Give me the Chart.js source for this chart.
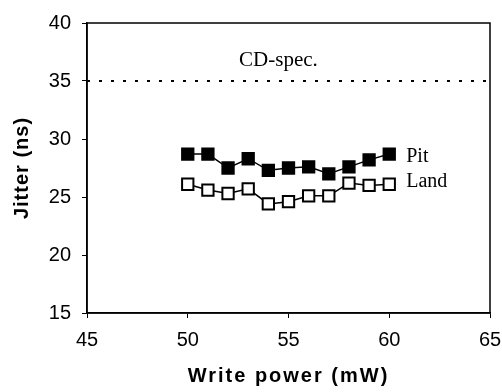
<!DOCTYPE html>
<html>
<head>
<meta charset="utf-8">
<script src="https://cdn.jsdelivr.net/npm/chart.js@4.4.0/dist/chart.umd.min.js"></script>
<style>
  html, body { margin: 0; padding: 0; background: #fff; }
  #wrap { width: 502px; height: 392px; }
</style>
</head>
<body>
<div id="wrap"><canvas id="c" width="502" height="392"></canvas></div>
<script>
// ---- data ----
const writePower = [50, 51, 52, 53, 54, 55, 56, 57, 58, 59, 60];
const pitJitter  = [28.7, 28.7, 27.5, 28.3, 27.3, 27.5, 27.6, 27.0, 27.6, 28.2, 28.7];
const landJitter = [26.1, 25.6, 25.3, 25.7, 24.4, 24.6, 25.1, 25.1, 26.2, 26.0, 26.1];
const specX = [45, 65];
const specY = [35, 35];
const xTicks = [45, 50, 55, 60, 65];
const yTicks = [15, 20, 25, 30, 35, 40];
const seriesNames = ['Pit', 'Land'];
const specLabel = 'CD-spec.';
const xTitle = 'Write power (mW)';
const yTitle = 'Jitter (ns)';

const toXY = (xs, ys) => xs.map((x, i) => ({ x: x, y: ys[i] }));

// give an axis title some letter spacing, like the original print
function spaceTitle(s, spacing) {
  if (s._spacedTitle) return;
  s._spacedTitle = true;
  const orig = s.drawTitle;
  s.drawTitle = function () {
    const ctx = this.ctx;
    ctx.save();
    ctx.letterSpacing = spacing;
    orig.apply(this, arguments);
    ctx.restore();
  };
}

const annotate = {
  id: 'annotate',
  afterDatasetsDraw(chart) {
    const ctx = chart.ctx;
    const xs = chart.scales.x, ys = chart.scales.y;
    const a = chart.chartArea;
    ctx.save();
    ctx.strokeStyle = '#000';
    ctx.lineWidth = 1.5;
    ctx.strokeRect(a.left, a.top, a.right - a.left, a.bottom - a.top);
    ctx.fillStyle = '#000';
    ctx.font = '21px "Liberation Serif", "Times New Roman", serif';
    ctx.textAlign = 'center';
    ctx.textBaseline = 'middle';
    ctx.fillText(specLabel, xs.getPixelForValue(54.5), ys.getPixelForValue(36.8));
    ctx.font = '20px "Liberation Serif", "Times New Roman", serif';
    ctx.textAlign = 'left';
    const lx = xs.getPixelForValue(60) + 17;
    ctx.fillText(seriesNames[0], lx, ys.getPixelForValue(pitJitter[pitJitter.length - 1]) + 3);
    ctx.fillText(seriesNames[1], lx, ys.getPixelForValue(landJitter[landJitter.length - 1]) - 2);
    ctx.restore();
  }
};

new Chart(document.getElementById('c'), {
  type: 'line',
  data: {
    datasets: [
      {
        label: seriesNames[0],
        data: toXY(writePower, pitJitter),
        borderColor: '#000',
        borderWidth: 1.5,
        pointStyle: 'rect',
        pointRadius: 8,
        pointBorderWidth: 2,
        pointBackgroundColor: '#000',
        pointBorderColor: '#000',
        tension: 0
      },
      {
        label: seriesNames[1],
        data: toXY(writePower, landJitter),
        borderColor: '#000',
        borderWidth: 1.5,
        pointStyle: 'rect',
        pointRadius: 8,
        pointBorderWidth: 2,
        pointBackgroundColor: '#fff',
        pointBorderColor: '#000',
        tension: 0
      },
      {
        label: specLabel,
        data: toXY(specX, specY),
        borderColor: '#000',
        borderWidth: 2,
        borderDash: [3, 9],
        pointRadius: 0,
        tension: 0
      }
    ]
  },
  options: {
    responsive: false,
    animation: false,
    devicePixelRatio: 1,
    layout: { padding: { top: 22, right: 0, left: 0, bottom: 0 } },
    plugins: { legend: { display: false }, tooltip: { enabled: false } },
    scales: {
      x: {
        type: 'linear',
        min: 45, max: 65,
        afterBuildTicks: s => { s.ticks = xTicks.map(v => ({ value: v })); },
        afterFit: s => { s.height = 79; s.paddingRight = 12; s.paddingLeft = 0; spaceTitle(s, '2px'); },
        grid: { drawOnChartArea: false, drawTicks: true, tickLength: 5, color: '#000', lineWidth: 1 },
        border: { display: true, color: '#000', width: 1.5 },
        ticks: { color: '#000', padding: 10, maxRotation: 0, font: { family: '"Liberation Sans", Arial, sans-serif', size: 20 } },
        title: { display: true, text: xTitle, color: '#000', padding: { top: 0, bottom: 4 },
                 font: { family: '"Liberation Sans", Arial, sans-serif', size: 20, weight: 'bold' } }
      },
      y: {
        type: 'linear',
        min: 15, max: 40,
        afterBuildTicks: s => { s.ticks = yTicks.map(v => ({ value: v })); },
        afterFit: s => { s.width = 87; spaceTitle(s, '1px'); },
        grid: { drawOnChartArea: false, drawTicks: true, tickLength: 5, color: '#000', lineWidth: 1 },
        border: { display: true, color: '#000', width: 1.5 },
        ticks: { color: '#000', padding: 11, font: { family: '"Liberation Sans", Arial, sans-serif', size: 20 } },
        title: { display: true, text: yTitle, color: '#000', padding: { top: 10, bottom: 0 },
                 font: { family: '"Liberation Sans", Arial, sans-serif', size: 20, weight: 'bold' } }
      }
    }
  },
  plugins: [annotate]
});
</script>
</body>
</html>
